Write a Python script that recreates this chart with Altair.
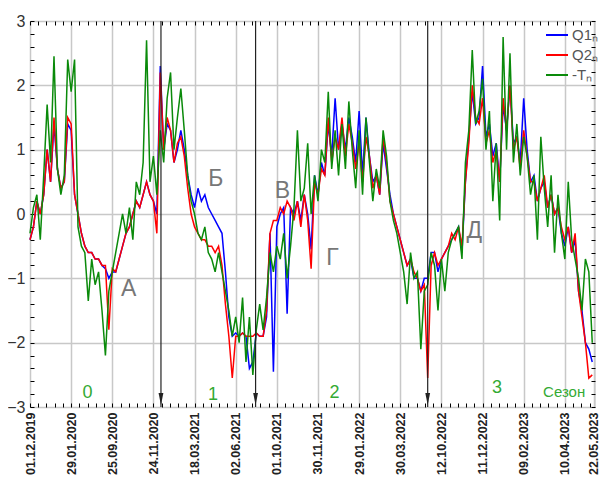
import altair as alt
import pandas as pd

# ---------------- data ----------------
STEP = 5  # index units between samples (x axis is a running index, 60 units per label interval)

q1 = [-0.4, -0.2, 0.2, 0.0, 0.3, 1.0, 0.5, 1.4, 0.7, 0.4,
      0.5, 1.4, 1.3, 0.3, 0.0, -0.3, -0.5, -0.6, -0.6, -0.7,
      -0.7, -0.8, -0.85, -1.0, -0.9, -0.9, -0.7, -0.5, -0.3, -0.2,
      0.0, 0.2, 0.1, 0.3, 0.5, 0.3, 0.2, 0.0, 2.3, 1.0,
      1.4, 1.3, 0.8, 1.0, 1.3, 1.0, 0.6, 0.3, 0.1, 0.4,
      0.2, 0.3, 0.1, 0.0, -0.1, -0.2, -0.3, -0.9, -1.6, -1.9,
      -1.85, -1.9, -1.85, -1.9, -2.4, -2.3, -1.85, -1.9, -1.9, -1.6,
      -0.3, -2.45, -0.2, 0.0, 0.1, -1.55, 0.1, 0.0, 0.2, -0.1,
      0.3, 0.0, -0.55, 0.6, 0.3, 0.8, 0.6, 1.4, 0.9, 1.8,
      1.0, 1.4, 1.0, 1.5, 1.2, 0.8, 1.6, 0.6, 1.5, 0.9,
      0.5, 0.6, 0.3, 1.1, 0.7, 0.3, 0.0, -0.2, -0.4, -0.6,
      -0.8, -0.7, -1.0, -1.0, -1.2, -1.0, -1.0, -0.6, -0.6, -0.9,
      -0.7, -0.6, -0.5, -0.4, -0.3, -0.2, -0.6, 0.5, 1.2, 1.9,
      1.4, 1.5, 2.3, 1.2, 1.4, 0.9, 1.1, 0.5, 1.7, 1.3,
      2.0, 1.1, 1.2, 0.8, 1.8, 1.0, 0.5, 0.6, 0.2, 0.4,
      0.5, 0.1, 0.3, 0.0, 0.1, -0.3, -0.5, -0.2, -0.6, -0.4,
      -1.2, -1.5, -2.0, -2.1, -2.3]

q2 = [-0.4, -0.2, 0.2, 0.0, 0.3, 1.0, 0.5, 1.5, 0.7, 0.4,
      0.5, 1.5, 1.4, 0.3, 0.0, -0.3, -0.5, -0.6, -0.6, -0.7,
      -0.7, -0.8, -0.8, -1.8, -0.85, -0.9, -0.7, -0.5, -0.3, -0.2,
      0.0, 0.2, 0.1, 0.3, 0.5, 0.3, 0.2, -0.3, 2.2, 1.0,
      1.5, 1.3, 0.8, 1.1, 1.2, 0.9, 0.4, 0.0, -0.2, -0.3,
      -0.4, -0.4, -0.5, -0.5, -0.6, -0.5, -0.8, -1.4, -1.9, -2.55,
      -1.9, -1.9, -1.85, -1.9, -1.9, -1.9, -1.85, -1.9, -1.9, -1.5,
      -0.3, -0.1, -0.1, 0.1, 0.0, 0.2, 0.1, -0.1, 0.2, -0.2,
      0.3, -0.1, -0.85, 0.5, 0.3, 0.7, 0.6, 1.5, 0.8, 1.2,
      1.0, 1.5, 0.9, 1.4, 1.1, 0.7, 1.1, 0.5, 1.2, 0.9,
      0.4, 0.6, 0.3, 1.2, 0.8, 0.2, 0.0, -0.2, -0.4, -0.6,
      -0.8, -0.7, -0.9, -1.0, -1.2, -1.1, -2.55, -0.8, -0.6, -0.8,
      -0.7, -0.6, -0.5, -0.3, -0.4, -0.2, -0.5, 0.5, 1.1, 2.0,
      1.5, 1.4, 1.8, 1.1, 1.3, 0.8, 1.0, 0.5, 1.8, 1.3,
      2.0, 1.0, 1.2, 0.7, 1.3, 0.9, 0.5, 0.5, 0.2, 0.4,
      0.6, 0.1, 0.3, 0.0, 0.1, -0.2, -0.4, -0.2, -0.6, -0.3,
      -1.2, -1.6, -2.0, -2.55, -2.5]

tn = [-0.3, 0.1, 0.3, -0.4, 0.6, 1.7, 0.8, 2.45, 0.7, 0.3,
      0.6, 2.4, 1.9, 2.4, -0.2, -0.5, -0.6, -1.35, -0.7, -1.1,
      -0.9, -1.5, -2.2, -1.2, -0.9, -0.6, -0.3, 0.0, -0.3, 0.1,
      -0.4, 0.5, 0.3, 0.8, 2.7, 0.5, 0.9, 0.3, 1.3, 0.8,
      1.8, 2.2, 1.0, 1.5, 1.95, 1.3, 0.6, 0.2, 0.0, -0.3,
      -0.4, -0.2, -0.6, -0.7, -0.9, -0.6, -0.9, -1.2, -1.5, -1.9,
      -1.6, -2.0, -1.3, -2.3, -1.6, -2.5, -1.8, -1.4, -1.8, -1.3,
      -0.6, -0.9, -0.5, -0.7, -0.3, -1.0, -0.5, 0.1, 1.3, 0.2,
      0.4, 1.1, 0.0, 0.6, 0.2, 1.0, 0.8, 1.9, 0.7, 1.3,
      0.6, 1.4, 0.7, 1.75, 1.0, 0.4, 1.3, 0.3, 1.5, 0.8,
      0.2, 0.7, 0.4, 1.3, 0.9, 0.2, -0.1, -0.3, -0.6, -0.9,
      -1.4, -0.6, -1.0, -0.9, -2.1, -1.2, -1.1, -0.6, -0.8, -1.5,
      -0.7, -1.2, -0.6, -0.4, -0.3, -0.2, -0.7, 0.8, 1.3, 2.55,
      1.4, 1.6, 2.1, 1.0, 1.6, 0.2, 1.1, -0.1, 2.75, 1.0,
      2.5, 0.8, 1.4, 0.6, 1.2, 0.9, 0.3, 0.6, -0.4, 1.2,
      0.4, -0.2, 0.6, -0.6, 0.3, -0.3, -0.7, 0.5, -0.4, -0.7,
      -1.0, -1.5, -0.7, -0.9, -2.0]

series_names = ["Q1\u2099", "Q2\u2099", "-T\u2099"]
series_colors = ["#0000ff", "#ff0000", "#0a8a0a"]

tick_values = [0, 60, 120, 180, 240, 300, 360, 420, 480, 540, 600, 660, 720, 780, 822]
tick_labels = ["01.12.2019", "29.01.2020", "25.09.2020", "24.11.2020", "18.03.2021",
               "02.06.2021", "01.10.2021", "30.11.2021", "29.01.2022", "30.03.2022",
               "12.10.2022", "11.12.2022", "09.02.2023", "10.04.2023", "22.05.2023"]

arrow_idx = [191, 329, 580]

letters = ["А", "Б", "В", "Г", "Д"]
letter_x = [144, 271, 368, 441, 648]
letter_y = [-1.17, 0.55, 0.36, -0.69, -0.27]

season_text = ["0", "1", "2", "3", "Сезон"]
season_x = [84, 267, 444, 681, 779]
season_y = [-2.78, -2.81, -2.78, -2.71, -2.77]
season_size = [18, 18, 18, 18, 15]

# ---------------- frames ----------------
rows = []
for name, vals in zip(series_names, [q1, q2, tn]):
    for i, v in enumerate(vals):
        rows.append({"idx": i * STEP, "val": v, "series": name})
df = pd.DataFrame(rows)

df_arr = pd.DataFrame({"idx": arrow_idx, "top": [3] * 3, "bot": [-3] * 3, "tip": [-2.97] * 3})
df_let = pd.DataFrame({"idx": letter_x, "val": letter_y, "t": letters})
df_sea = pd.DataFrame({"idx": season_x, "val": season_y, "t": season_text, "s": season_size})

W, H = 565, 386
XS = alt.Scale(domain=[0, 824], nice=False, zero=False)
YS = alt.Scale(domain=[-3, 3], nice=False, zero=False)
CS = alt.Scale(domain=series_names, range=series_colors)

x_minor = list(range(0, 825, 12))
y_minor = [round(-3 + 0.2 * k, 1) for k in range(31)]

label_expr = "[" + ",".join("'%s'" % s for s in tick_labels) + "][indexof([" + \
    ",".join(str(v) for v in tick_values) + "], datum.value)]"

x_main = alt.X("idx:Q", scale=XS, axis=alt.Axis(
    orient="bottom", values=tick_values, labelExpr=label_expr, labelAngle=270,
    labelAlign="right", labelBaseline="middle", labelFontSize=12.5, labelFontWeight="bold",
    labelColor="#222", labelPadding=5, tickSize=0, grid=True, gridColor="#c8c8c8",
    gridWidth=1.5, domain=False, title=None, labelOverlap=False, labelFlush=False,
    labelBound=False))
y_main = alt.Y("val:Q", scale=YS, axis=alt.Axis(
    orient="left", values=[-3, -2, -1, 0, 1, 2, 3], labelFontSize=16, labelColor="#333",
    labelPadding=5, tickSize=0, grid=True, gridColor="#c8c8c8", gridWidth=1.5,
    domain=False, title=None, labelFlush=False))

legend = alt.Legend(title=None, orient="none", legendX=515, legendY=2, symbolType="stroke",
                    symbolSize=484, symbolStrokeWidth=2, labelFontSize=15, labelColor="#555",
                    labelFont="Liberation Sans", rowPadding=-6, padding=0, labelOffset=3)


def tick_axis(orient, offset, values):
    return alt.Axis(orient=orient, offset=offset, values=values, labels=False, grid=False,
                    domain=False, tickSize=4, tickColor="black", tickWidth=1, title=None)


layers = []
for k, name in enumerate(series_names):
    layers.append(
        alt.Chart(df).transform_filter(alt.datum.series == name).mark_line(strokeWidth=1.5).encode(
            x=x_main if k == 0 else alt.X("idx:Q", scale=XS, axis=None),
            y=y_main if k == 0 else alt.Y("val:Q", scale=YS, axis=None),
            color=alt.Color("series:N", scale=CS, legend=legend),
            order=alt.value(k),
        )
    )

arrows = alt.Chart(df_arr).mark_rule(color="#222", strokeWidth=1.2).encode(
    x=alt.X("idx:Q", scale=XS, axis=tick_axis("top", -H, x_minor)),
    y=alt.Y("top:Q", scale=YS, axis=tick_axis("right", -W, y_minor)),
    y2="bot:Q",
)
heads = alt.Chart(df_arr).mark_point(
    shape="M -0.6 -3 L 0 0 L 0.6 -3 Z", filled=True, size=64, color="#222", opacity=1
).encode(
    x=alt.X("idx:Q", scale=XS, axis=tick_axis("bottom", -H, x_minor)),
    y=alt.Y("tip:Q", scale=YS, axis=tick_axis("left", -W, y_minor)),
)

let_layer = alt.Chart(df_let).mark_text(fontSize=23, color="#777", font="Liberation Sans").encode(
    x=alt.X("idx:Q", scale=XS, axis=None), y=alt.Y("val:Q", scale=YS, axis=None), text="t:N")
sea_layer = alt.Chart(df_sea).mark_text(color="#33aa33", font="Liberation Sans").encode(
    x=alt.X("idx:Q", scale=XS, axis=None), y=alt.Y("val:Q", scale=YS, axis=None), text="t:N",
    size=alt.Size("s:Q", scale=None, legend=None))

chart = alt.layer(*layers, arrows, heads, let_layer, sea_layer).resolve_axis(
    x="independent", y="independent"
).properties(
    width=W, height=H,
    autosize=alt.AutoSizeParams(type="none"),
    padding={"left": 22, "top": 13, "right": 5, "bottom": 69},
).configure_view(stroke="black", strokeWidth=1.5).configure_axis(
    labelFont="Liberation Sans"
).configure(background="white")

chart.save("out.html", embed_options={"renderer": "svg", "actions": False})
